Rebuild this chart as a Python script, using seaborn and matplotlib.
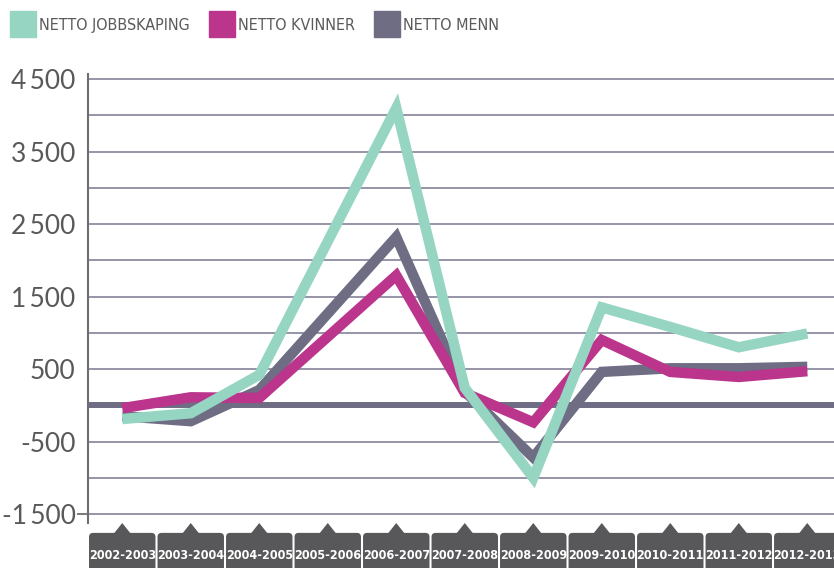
import numpy as np
import pandas as pd
import seaborn as sns
import matplotlib.pyplot as plt
from matplotlib.lines import Line2D
from matplotlib.patches import FancyBboxPatch, Polygon
import matplotlib.transforms as mtransforms

# data
periods = ["2002-2003", "2003-2004", "2004-2005", "2005-2006", "2006-2007", "2007-2008",
           "2008-2009", "2009-2010", "2010-2011", "2011-2012", "2012-2013"]
netto_jobbskaping = [-190, -110, 420, 2260, 4100, 240, -1000, 1350, 1080, 800, 990]
netto_kvinner = [-40, 110, 100, 945, 1790, 170, -235, 900, 460, 390, 470]
netto_menn = [-150, -220, 210, 1265, 2320, 190, -720, 460, 510, 510, 530]

series_names = ["NETTO JOBBSKAPING", "NETTO KVINNER", "NETTO MENN"]
colors = {"NETTO JOBBSKAPING": "#97d5c3", "NETTO KVINNER": "#bb358c", "NETTO MENN": "#6e6d84"}

ytick_vals = [-1500, -500, 500, 1500, 2500, 3500, 4500]
ytick_labels = ["-1\u2009500", "-500", "500", "1\u2009500", "2\u2009500", "3\u2009500", "4\u2009500"]
grid_vals = list(range(-1500, 5000, 500))

df = pd.DataFrame({
    "x": list(range(len(periods))) * 3,
    "value": netto_jobbskaping + netto_kvinner + netto_menn,
    "serie": np.repeat(series_names, len(periods)),
})

sns.set_style("white")
plt.rcParams["font.family"] = ["Lato", "DejaVu Sans"]

fig = plt.figure(figsize=(8.34, 5.68), dpi=100)
ax = fig.add_axes([88 / 834, 45 / 568, 746 / 834, 449 / 568])

# grid + thick zero line
for g in grid_vals:
    ax.axhline(g, color="#8e8ba0", lw=1.3, zorder=1)
ax.axhline(0, color="#6e6d84", lw=4.3, zorder=2)

# gray first, teal on top
draw_order = ["NETTO MENN", "NETTO KVINNER", "NETTO JOBBSKAPING"]
sns.lineplot(data=df, x="x", y="value", hue="serie", hue_order=draw_order,
             palette=colors, lw=7.5, ax=ax, legend=False, zorder=3)
for ln in ax.get_lines()[-3:]:
    ln.set_solid_joinstyle("miter")
    ln.set_solid_capstyle("butt")

ax.set_xlim(-0.5, 10.39)
ax.set_ylim(-1624, 4569)
ax.set_yticks(ytick_vals)
ax.set_yticklabels(ytick_labels)
ax.tick_params(axis="y", length=8, width=1.3, color="#6d6e71", pad=1,
               labelsize=19, labelcolor="#58595b", left=True)
for t in ax.yaxis.get_major_ticks()[1:]:
    t.tick1line.set_visible(False)
ax.set_xticks([])
ax.set_xlabel("")
ax.set_ylabel("")
for s in ["top", "right", "bottom"]:
    ax.spines[s].set_visible(False)
ax.spines["left"].set_color("#6d6e71")
ax.spines["left"].set_linewidth(1.5)

# dark tab labels under the axis
trans = mtransforms.blended_transform_factory(ax.transData, ax.transAxes)
for i, p in enumerate(periods):
    box = FancyBboxPatch((i - 0.485, -0.11), 0.97, 0.088,
                         boxstyle="round,pad=0,rounding_size=0.06", mutation_aspect=0.15,
                         transform=trans, clip_on=False, facecolor="#58585a", edgecolor="none")
    ax.add_patch(box)
    tri = Polygon([(i - 0.12, -0.023), (i + 0.12, -0.023), (i, 0.0)], closed=True,
                  transform=trans, clip_on=False, facecolor="#58585a", edgecolor="none")
    ax.add_patch(tri)
    ax.text(i, -0.072, p, transform=trans, ha="center", va="center", color="white",
            fontsize=9, fontweight="bold", family="DejaVu Sans", stretch="condensed",
            clip_on=False)

# legend with square swatches
handles = [Line2D([], [], marker="s", ls="none", markersize=19, color=colors[n]) for n in series_names]
leg = fig.legend(handles, series_names, loc="center left", bbox_to_anchor=(0.0, 0.955),
                 ncol=3, frameon=False, handlelength=1.1, handletextpad=0.45,
                 columnspacing=1.45,
                 prop={"family": "DejaVu Sans", "stretch": "condensed", "size": 11.5})
for txt in leg.get_texts():
    txt.set_color("#5a5a5c")

fig.savefig("out.png", dpi=100)
